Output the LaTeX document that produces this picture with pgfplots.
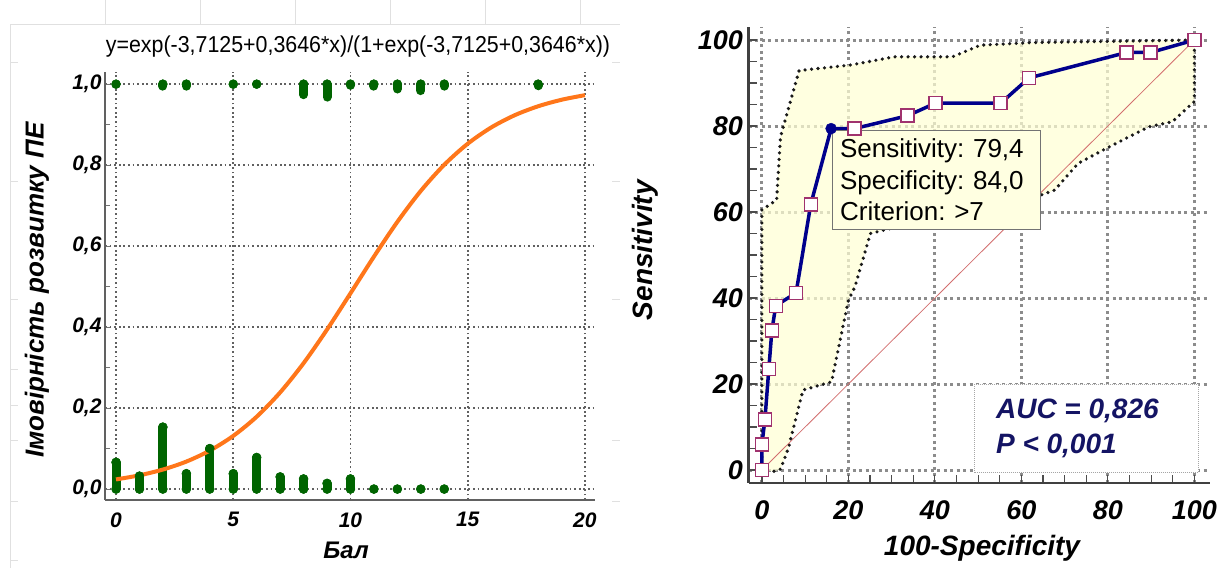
\documentclass[border=0pt]{standalone}
\usepackage{fontspec}
\setmainfont{Liberation Sans}
\newfontfamily\narrowsans[FakeStretch=0.93]{Liberation Sans}
\usepackage{pgfplots}
\pgfplotsset{compat=1.18}

\definecolor{ptgreen}{RGB}{0,100,0}
\definecolor{ptorange}{RGB}{255,118,26}
\definecolor{rocnavy}{RGB}{0,0,140}
\definecolor{mkedge}{RGB}{160,50,110}
\definecolor{bandfill}{RGB}{255,255,212}
\definecolor{boxfill}{RGB}{255,255,225}
\definecolor{auctext}{RGB}{20,20,100}
\definecolor{diag}{RGB}{210,110,110}

\newcommand\ftickL{\fontsize{21pt}{25pt}\selectfont\bfseries\itshape}
\newcommand\ftickR{\fontsize{27pt}{31pt}\selectfont\bfseries\itshape}
\newcommand\flabR{\fontsize{28pt}{32pt}\selectfont\bfseries\itshape}

% 1 px of the reference = 1 pt here
\begin{document}
\frenchspacing
\begin{tikzpicture}
% faint spreadsheet lines behind the left chart
\draw[black!12, line width=1pt] (10pt,543pt) -- (620pt,543pt);
\draw[black!12, line width=1pt] (10pt,543pt) -- (10pt,0pt);
\foreach \x in {105,200,295,390,485,580}
  \draw[black!12, line width=1pt] (\x pt,543pt) -- (\x pt,568pt);
\foreach \y in {63,182,300,370,406,441,501,560}
  \draw[black!12, line width=1pt] (10pt,568pt-\y pt) -- (18pt,568pt-\y pt);
\foreach \y in {63,182,300,441,501}
  \draw[black!12, line width=1pt] (612pt,568pt-\y pt) -- (620pt,568pt-\y pt);

\node at (358pt,521pt) {\narrowsans\fontsize{23pt}{27pt}\selectfont y=exp(-3,7125+0,3646*x)/(1+exp(-3,7125+0,3646*x))};

%---------------- logistic regression ----------------
\begin{axis}[
  at={(105pt,68pt)}, anchor=south west,
  scale only axis, width=490pt, height=428pt,
  xmin=-0.47, xmax=20.43, ymin=-0.027, ymax=1.03,
  axis x line=bottom, axis y line=left,
  axis line style={-, line width=2pt, draw=black!62},
  xtick={0,5,10,15,20},
  ytick={0,0.2,0.4,0.6,0.8,1},
  minor ytick={0.1,0.3,0.5,0.7,0.9},
  tick align=inside,
  x tick style={draw=none},
  y tick style={line width=1pt, draw=black!55},
  major tick length=5pt, minor tick length=5pt,
  grid=major,
  major grid style={draw=black!62, line width=1.8pt, dash pattern=on 1.8pt off 2.8pt},
  /pgf/number format/assume math mode=true,
  ticklabel style={font=\ftickL},
  xticklabel style={yshift=-9pt},
  yticklabel style={/pgf/number format/.cd, fixed, fixed zerofill, precision=1, use comma},
  xlabel={Бал},
  xlabel style={at={(axis description cs:0.492,-0.117)}, anchor=center, font=\fontsize{24pt}{28pt}\selectfont\bfseries\itshape},
  ylabel={Імовірність розвитку ПЕ},
  ylabel style={at={(axis description cs:-0.139,0.49)}, anchor=center, font=\fontsize{26pt}{30pt}\selectfont\bfseries\itshape},
  clip=false,
]
% cases without PE: stacked observations at 0
\addplot[ycomb, ptgreen, line width=9pt, line cap=round, mark=*, mark size=4.5pt,
  mark options={ptgreen, line width=0.5pt}]
  coordinates {(0,0.066) (1,0.032) (2,0.153) (3,0.038) (4,0.100) (5,0.038) (6,0.078)
               (7,0.030) (8,0.025) (9,0.014) (10,0.025) (11,0) (12,0) (13,0) (14,0)};
\addplot[only marks, ptgreen, mark=*, mark size=4.5pt]
  coordinates {(0,0) (1,0) (2,0) (3,0) (4,0) (5,0) (6,0) (7,0) (8,0) (9,0) (10,0)};
% cases with PE: stacked observations at 1
\addplot[only marks, ptgreen, mark=*, mark size=4.5pt,
  error bars/.cd, y dir=minus, y explicit, error mark=none,
  error bar style={line width=9pt, line cap=round, ptgreen}]
  coordinates {(0,1) -= (0,0) (2,1) -= (0,0.005) (3,1) -= (0,0.005) (5,1) -= (0,0)
               (6,1) -= (0,0) (8,1) -= (0,0.026) (9,1) -= (0,0.032) (10,1) -= (0,0.003)
               (11,1) -= (0,0.005) (12,1) -= (0,0.012) (13,1) -= (0,0.016)
               (14,1) -= (0,0.005) (18,1) -= (0,0.004)};
% fitted curve, values of the printed equation at each score
\addplot[ptorange, line width=4pt, smooth] coordinates {
  (0,0.0238) (1,0.0340) (2,0.0482) (3,0.0679) (4,0.0950) (5,0.1313) (6,0.1787)
  (7,0.2386) (8,0.3109) (9,0.3939) (10,0.4834) (11,0.5740) (12,0.6599) (13,0.7364)
  (14,0.8009) (15,0.8528) (16,0.8929) (17,0.9231) (18,0.9453) (19,0.9614) (20,0.9728)};
\end{axis}

%---------------- ROC curve ----------------
\begin{axis}[
  at={(748.5pt,85.3pt)}, anchor=south west,
  scale only axis, width=461pt, height=456pt,
  xmin=-3.1, xmax=103.5, ymin=-2.95, ymax=103.1,
  axis x line=bottom, axis y line=left,
  axis line style={-, line width=2.2pt, draw=black!75},
  xtick={0,20,...,100}, ytick={0,20,...,100},
  minor xtick={5,10,15,25,30,35,45,50,55,65,70,75,85,90,95},
  minor ytick={5,10,15,25,30,35,45,50,55,65,70,75,85,90,95},
  tick align=inside,
  tick style={line width=1.2pt, draw=black!70},
  major tick length=8pt, minor tick length=8pt,
  grid=major,
  major grid style={draw=black!45, line width=3pt, dash pattern=on 3pt off 3.5pt},
  /pgf/number format/assume math mode=true,
  ticklabel style={font=\ftickR},
  xticklabel style={yshift=-14pt},
  yticklabel style={xshift=-2pt},
  xlabel={100-Specificity},
  xlabel style={at={(axis description cs:0.5065,-0.143)}, anchor=center, font=\flabR},
  ylabel={Sensitivity},
  ylabel style={at={(axis description cs:-0.2245,0.51)}, anchor=center, font=\flabR},
  clip=false,
]
\draw[black!35, line width=1pt, densely dotted, fill=white]
  (axis cs:49.1,-0.6) rectangle (axis cs:101,20);
% 95% confidence band
\addplot[draw=black!90, line width=3.6pt, dash pattern=on 0pt off 6.5pt, line cap=round,
  fill=bandfill, fill opacity=0.72] coordinates {
  (0,0) (0,60.5) (3.4,62.8) (4.3,77.5) (8.6,92.9) (20.6,94.2) (30.6,96.1) (44.1,96.1)
  (50.5,98.8) (62.3,99.4) (100,100) (100,85.7) (94.9,81) (89.4,79.8) (80.4,75.2)
  (73.1,71.3) (67.7,65.1) (63.6,63.6) (55,62) (45,60) (35,57.5) (25.1,55) (21.5,42.6)
  (20,39.5) (16.1,20.5) (9.5,18.6) (6.1,5) (4.3,0.2) (2.9,-0.3) (0,0)};
\addplot[diag, line width=0.8pt] coordinates {(0,0) (100,100)};
\addplot[rocnavy, line width=3.5pt] coordinates {
  (0,0) (0,5.9) (0.7,11.8) (1.6,23.5) (2.3,32.4) (3.2,38.2) (7.9,41.2) (11.3,61.8)
  (16,79.4) (21.4,79.4) (33.7,82.4) (40.1,85.3) (55.2,85.3) (61.8,91.2) (84.3,97.1)
  (89.9,97.1) (100,100)};
\addplot[only marks, mark=square*, mark size=6.5pt,
  mark options={fill=white, draw=mkedge, line width=1.5pt}] coordinates {
  (0,0) (0,5.9) (0.7,11.8) (1.6,23.5) (2.3,32.4) (3.2,38.2) (7.9,41.2) (11.3,61.8)
  (21.4,79.4) (33.7,82.4) (40.1,85.3) (55.2,85.3) (61.8,91.2) (84.3,97.1)
  (89.9,97.1) (100,100)};
\addplot[only marks, mark=*, mark size=5.5pt, rocnavy] coordinates {(16,79.4)};
\node[draw=black!55, line width=1.2pt, fill=boxfill, anchor=north west,
  inner xsep=8pt, inner ysep=3pt, text width=192pt, minimum height=99pt, align=left,
  font=\fontsize{26pt}{31.7pt}\selectfont] at (axis cs:16.1,79.1)
  {Sensitivity: 79,4\\Specificity: 84,0\\Criterion: >7};
\node[anchor=base west, text=auctext, font=\flabR, inner sep=0pt] at (axis cs:54.1,12.0) {AUC = 0,826};
\node[anchor=base west, text=auctext, font=\flabR, inner sep=0pt] at (axis cs:54.1,3.9) {P < 0,001};
\end{axis}
\pgfresetboundingbox
\path (0,0) rectangle (1229pt,568pt);
\end{tikzpicture}
\end{document}
